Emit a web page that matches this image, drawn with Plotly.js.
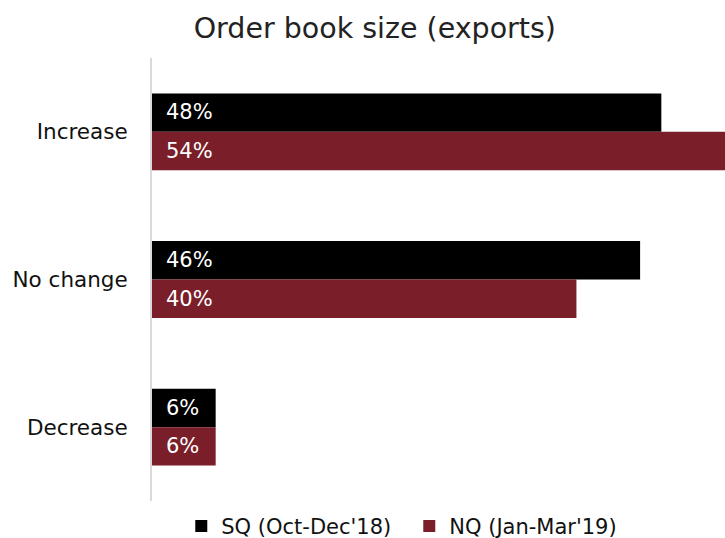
<!DOCTYPE html>
<html>
<head>
<meta charset="utf-8">
<script src="https://cdn.plot.ly/plotly-3.0.1.min.js"></script>
<style>html,body{margin:0;padding:0;background:#fff;}#chart{width:725px;height:538px;}</style>
</head>
<body>
<div id="chart"></div>
<script>
const categories = ["Increase", "No change", "Decrease"];
const seriesNames = ["SQ (Oct-Dec'18)", "NQ (Jan-Mar'19)"];
const sqValues = [48, 46, 6];
const nqValues = [54, 40, 6];
const colors = ["#000000", "#7a1f2a"];

const FONT = "DejaVu Sans, Liberation Sans, Arial, sans-serif";

const traces = [
  {type: "bar", orientation: "h", name: seriesNames[0], y: categories, x: sqValues,
   marker: {color: colors[0]}, hoverinfo: "skip"},
  {type: "bar", orientation: "h", name: seriesNames[1], y: categories, x: nqValues,
   marker: {color: colors[1]}, hoverinfo: "skip"}
];

const annotations = [];
[sqValues, nqValues].forEach((vals, si) => {
  vals.forEach((v, i) => {
    annotations.push({
      xref: "x", yref: "y", x: 0, y: categories[i],
      xanchor: "left", yanchor: "middle",
      xshift: 12, yshift: si === 0 ? 19.5 : -19,
      text: v + "%", showarrow: false,
      font: {family: FONT, size: 21, color: "#ffffff"}
    });
  });
});

const layout = {
  width: 725, height: 538,
  paper_bgcolor: "#ffffff", plot_bgcolor: "#ffffff",
  margin: {l: 152, r: 0, t: 58, b: 37, autoexpand: false},
  title: {text: "Order book size (exports)", x: 0.517, xanchor: "center", y: 0.948, yanchor: "middle",
          font: {family: FONT, size: 28.5, color: "#222222"}},
  barmode: "group", bargap: 0.48, bargroupgap: 0,
  xaxis: {range: [0, 54], showgrid: false, zeroline: false, showticklabels: false, showline: false, fixedrange: true},
  yaxis: {autorange: "reversed", showgrid: false, zeroline: false, showline: true,
          linecolor: "#d9d9d9", linewidth: 2, ticks: "", ticklabelstandoff: 18,
          tickfont: {family: FONT, size: 21.5, color: "#111111"}, fixedrange: true},
  legend: {orientation: "h", x: 0.449, xanchor: "center", y: -0.011, yanchor: "top",
           font: {family: FONT, size: 21, color: "#111111"}, itemwidth: 30, traceorder: "normal",
           entrywidth: 183, entrywidthmode: "pixels"},
  showlegend: true,
  annotations: annotations
};

Plotly.newPlot("chart", traces, layout, {displayModeBar: false, staticPlot: true});
</script>
</body>
</html>
